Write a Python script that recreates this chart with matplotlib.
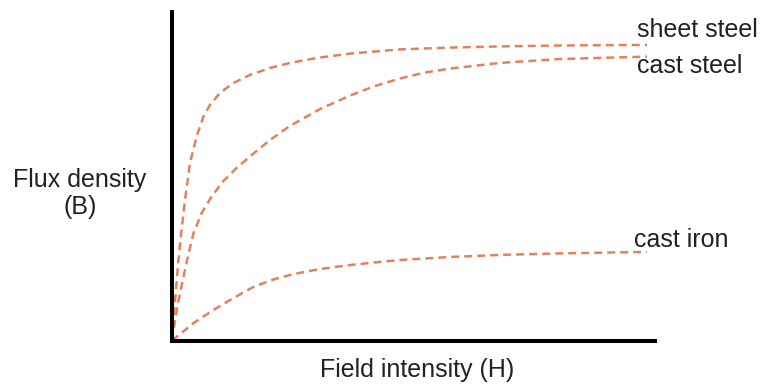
import matplotlib
matplotlib.use("Agg")
import matplotlib.pyplot as plt

plt.rcParams["font.family"] = ["Liberation Sans", "DejaVu Sans"]

# B-H magnetisation curves (arbitrary units, H scaled 0-100)
sheet_H = [0, 0.32, 0.74, 1.26, 1.89, 2.74, 3.79, 5.2, 6.59, 8.0, 10.11, 12.91, 16.42,
           20.63, 24.84, 31.16, 37.47, 48.0, 58.53, 69.05, 81.68, 100]
sheet_B = [0, 0.07, 0.153, 0.253, 0.353, 0.47, 0.593, 0.683, 0.747, 0.787, 0.827, 0.86, 0.887,
           0.91, 0.927, 0.945, 0.958, 0.972, 0.978, 0.982, 0.985, 0.987]

cast_steel_H = [0, 0.53, 1.16, 2.0, 3.09, 4.48, 6.25, 8.36, 10.8, 13.62, 16.78, 20.63, 24.84,
                31.16, 37.47, 42.74, 48.0, 53.26, 58.53, 69.05, 81.68, 100]
cast_steel_B = [0, 0.057, 0.117, 0.183, 0.263, 0.357, 0.427, 0.482, 0.533, 0.577, 0.62, 0.67,
                0.717, 0.773, 0.818, 0.85, 0.875, 0.895, 0.908, 0.927, 0.94, 0.948]

cast_iron_H = [0, 0.99, 4.48, 8.69, 12.91, 17.12, 21.33, 25.54, 31.16, 37.47, 42.74, 48.0,
               58.53, 69.05, 81.68, 100]
cast_iron_B = [0, 0.014, 0.059, 0.103, 0.143, 0.18, 0.205, 0.223, 0.24, 0.253, 0.262, 0.27,
               0.28, 0.287, 0.292, 0.297]

W, H = 763, 385
fig = plt.figure(figsize=(W / 100, H / 100), dpi=100)
ax = fig.add_axes([172 / W, 44 / H, 483 / W, 329 / H])

color = "#E2825C"
style = dict(color=color, lw=1.8, linestyle=(0, (3.2, 2.0)), dash_joinstyle="round")
ax.plot(sheet_H, sheet_B, **style)
ax.plot(cast_steel_H, cast_steel_B, **style)
ax.plot(cast_iron_H, cast_iron_B, **style)

ax.set_xlim(0, 101.7)
ax.set_ylim(0, 1.0967)
ax.set_xticks([])
ax.set_yticks([])
for side in ("top", "right"):
    ax.spines[side].set_visible(False)
for side in ("left", "bottom"):
    ax.spines[side].set_linewidth(2.9)
    ax.spines[side].set_color("black")

fs = 18
tcol = "#222222"
fig.text(637 / W, 1 - 37 / H, "sheet steel", fontsize=fs, color=tcol, ha="left", va="baseline")
fig.text(637 / W, 1 - 73 / H, "cast steel", fontsize=fs, color=tcol, ha="left", va="baseline")
fig.text(634 / W, 1 - 247 / H, "cast iron", fontsize=fs, color=tcol, ha="left", va="baseline")

fig.text(80 / W, 1 - 187 / H, "Flux density", fontsize=fs, color=tcol, ha="center", va="baseline")
fig.text(80 / W, 1 - 214 / H, "(B)", fontsize=fs, color=tcol, ha="center", va="baseline")
fig.text(417 / W, 1 - 377 / H, "Field intensity (H)", fontsize=fs, color=tcol, ha="center", va="baseline")

fig.savefig("out.png", dpi=100)
